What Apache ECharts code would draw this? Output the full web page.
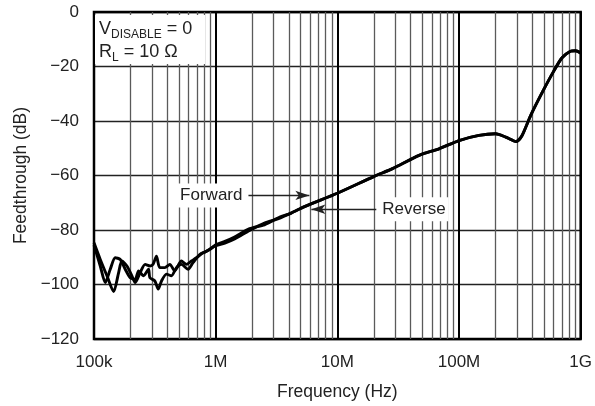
<!DOCTYPE html>
<html>
<head>
<meta charset="utf-8">
<script src="https://cdn.jsdelivr.net/npm/echarts@6/dist/echarts.min.js"></script>
<style>
html,body{margin:0;padding:0;background:#fff;}
#c{width:595px;height:406px;}
</style>
</head>
<body>
<div id="c"></div>
<script>
// ---- data (frequency in Hz, feedthrough in dB) ----
const forwardFreq = [1.0e5,1.126e5,1.278e5,1.45e5,1.594e5,1.696e5,1.864e5,2.049e5,2.181e5,2.396e5,2.633e5,2.89e5,3.06e5,3.26e5,3.47e5,3.82e5,4.2e5,4.61e5,5.23e5,5.75e5,6.32e5,6.95e5,7.87e5,8.93e5,1.01e6,1.19e6,1.43e6,1.9e6,2.52e6,3.24e6,4.17e6,5.37e6,1e7,2.01e7,2.84e7,4.7e7,6.85e7,1e8,1.46e8,2.0e8,2.42e8,2.95e8,3.3e8,3.87e8,4.82e8,6.01e8,7.03e8,8.24e8,9.06e8,1e9];
const forwardDb   = [-84.7,-90.8,-96.8,-102.6,-95.6,-91.4,-93.2,-96.8,-99.3,-95.6,-92.6,-93.2,-92.6,-89.6,-93.8,-93.8,-92.6,-95,-91.4,-92.6,-91.4,-90.2,-88.4,-87.2,-85.3,-84.2,-82.6,-79.5,-78.1,-75.6,-73.8,-71.4,-66.5,-60.3,-57.5,-52.6,-50.2,-47.2,-45.3,-44.7,-45.9,-47.5,-45.3,-38.1,-29.6,-21.7,-16.8,-14.4,-14.2,-15.0];
const reverseFreq = [1.0e5,1.126e5,1.238e5,1.36e5,1.495e5,1.643e5,1.806e5,1.984e5,2.181e5,2.325e5,2.555e5,2.809e5,2.877e5,3.16e5,3.37e5,3.59e5,3.94e5,4.33e5,4.76e5,5.23e5,5.93e5,6.51e5,7.39e5,8.39e5,9.82e5,1.19e6,1.43e6,1.9e6,2.52e6,3.24e6,4.17e6,5.37e6,1e7,2.01e7,2.84e7,4.7e7,6.85e7,1e8,1.46e8,2.0e8,2.42e8,2.95e8,3.3e8,3.87e8,4.82e8,6.01e8,7.03e8,8.24e8,9.06e8,1e9];
const reverseDb   = [-85.5,-93.2,-99.3,-94.4,-90.2,-90.8,-94.4,-97.5,-98.1,-95,-96.8,-94.4,-97.5,-98.7,-101.7,-98.7,-96.2,-96.8,-93.8,-92.6,-94.4,-92,-89,-87.8,-85.9,-84.8,-83.3,-80.2,-77.5,-75.9,-73.8,-71.4,-66.5,-60.3,-57.5,-52.6,-50.2,-47.2,-45.3,-44.7,-45.9,-47.5,-45.3,-38.1,-29.6,-21.7,-16.8,-14.4,-14.2,-15.0];

const xTickValues = [1e5, 1e6, 1e7, 1e8, 1e9];
const xTickLabels = ['100k', '1M', '10M', '100M', '1G'];
const yTickValues = [0, -20, -40, -60, -80, -100, -120];
const yTickLabels = ['0', '\u221220', '\u221240', '\u221260', '\u221280', '\u2212100', '\u2212120'];

const minorDecades = [1e5, 1e6, 1e7, 1e8];
const minorSteps = [2, 3, 4, 5, 6, 7, 8, 9];

const annForward = {text: 'Forward', from: [1.86e6, -67.3], to: [5.89e6, -67.3]};
const annReverse = {text: 'Reverse', from: [2.09e7, -72.4], to: [6.12e6, -72.4]};

// ---- chart ----
const FONT = "'Liberation Sans', Arial, sans-serif";
const TXT = '#222';
const pairs = (xs, ys) => xs.map((x, i) => [x, ys[i]]);

const minorLines = [];
minorDecades.forEach(d => minorSteps.forEach(s => minorLines.push({xAxis: d * s})));

function annotation(a) {
  return {
    silent: true,
    animation: false,
    symbol: ['none', 'arrow'],
    symbolSize: [7, 14],
    itemStyle: {color: '#222'},
    lineStyle: {color: '#222', width: 1.3, type: 'solid'},
    label: {show: true, position: 'start', formatter: a.text, fontFamily: FONT, fontSize: 17,
            color: TXT, backgroundColor: '#fff', padding: [4, 3, 3, 3], distance: 3},
    emphasis: {disabled: true},
    data: [[{coord: a.from}, {coord: a.to}]]
  };
}

const chart = echarts.init(document.getElementById('c'), null, {renderer: 'canvas'});
chart.setOption({
  animation: false,
  backgroundColor: '#fff',
  grid: {left: 94, right: 13, top: 12, bottom: 64, show: true, borderColor: '#000', borderWidth: 2.5, z: 3},
  xAxis: {
    type: 'log', logBase: 10, min: 1e5, max: 1e9,
    name: 'Frequency (Hz)', nameLocation: 'middle', nameGap: 44,
    nameTextStyle: {fontFamily: FONT, fontSize: 17.5, color: TXT},
    axisLine: {show: false}, axisTick: {show: false},
    axisLabel: {fontFamily: FONT, fontSize: 17, color: TXT, margin: 15,
      formatter: v => { const i = Math.round(Math.log10(v)) - 5; return xTickLabels[i] || ''; }},
    splitLine: {show: true, lineStyle: {color: '#000', width: 2}}
  },
  yAxis: {
    type: 'value', min: -120, max: 0, interval: 20,
    name: 'Feedthrough (dB)', nameLocation: 'middle', nameGap: 64,
    nameTextStyle: {fontFamily: FONT, fontSize: 17.5, color: TXT},
    axisLine: {show: false}, axisTick: {show: false},
    axisLabel: {fontFamily: FONT, fontSize: 17, color: TXT, margin: 15,
      formatter: v => { const i = yTickValues.indexOf(Math.round(v)); return i >= 0 ? yTickLabels[i] : ''; }},
    splitLine: {show: true, lineStyle: {color: '#222', width: 1.4}}
  },
  series: [
    {type: 'line', data: [], silent: true, z: 1,
     markLine: {silent: true, animation: false, symbol: ['none', 'none'], label: {show: false},
                lineStyle: {color: '#5a5a5a', width: 1.3, type: 'solid'}, emphasis: {disabled: true},
                data: minorLines}},
    {name: 'Forward', type: 'line', data: pairs(forwardFreq, forwardDb), showSymbol: false, smooth: 0.25,
     itemStyle: {color: '#000'}, lineStyle: {color: '#000', width: 2.9}, z: 5, markLine: annotation(annForward)},
    {name: 'Reverse', type: 'line', data: pairs(reverseFreq, reverseDb), showSymbol: false, smooth: 0.25,
     itemStyle: {color: '#000'}, lineStyle: {color: '#000', width: 2.9}, z: 5, markLine: annotation(annReverse)}
  ],
  graphic: [
    {type: 'rect', z: 50, shape: {x: 95, y: 15, width: 110, height: 49}, style: {fill: '#fff'}},
    {type: 'text', z: 51, left: 99, top: 20,
     style: {
       text: '{a|V}{b|DISABLE}{a| = 0}\n{a|R}{b|L}{a| = 10 \u03A9}',
       font: '18px ' + FONT, fill: TXT,
       rich: {
         a: {fontFamily: FONT, fontSize: 18, lineHeight: 23, fill: TXT},
         b: {fontFamily: FONT, fontSize: 12, lineHeight: 14, verticalAlign: 'bottom', fill: TXT}
       }
     }}
  ]
});
</script>
</body>
</html>
